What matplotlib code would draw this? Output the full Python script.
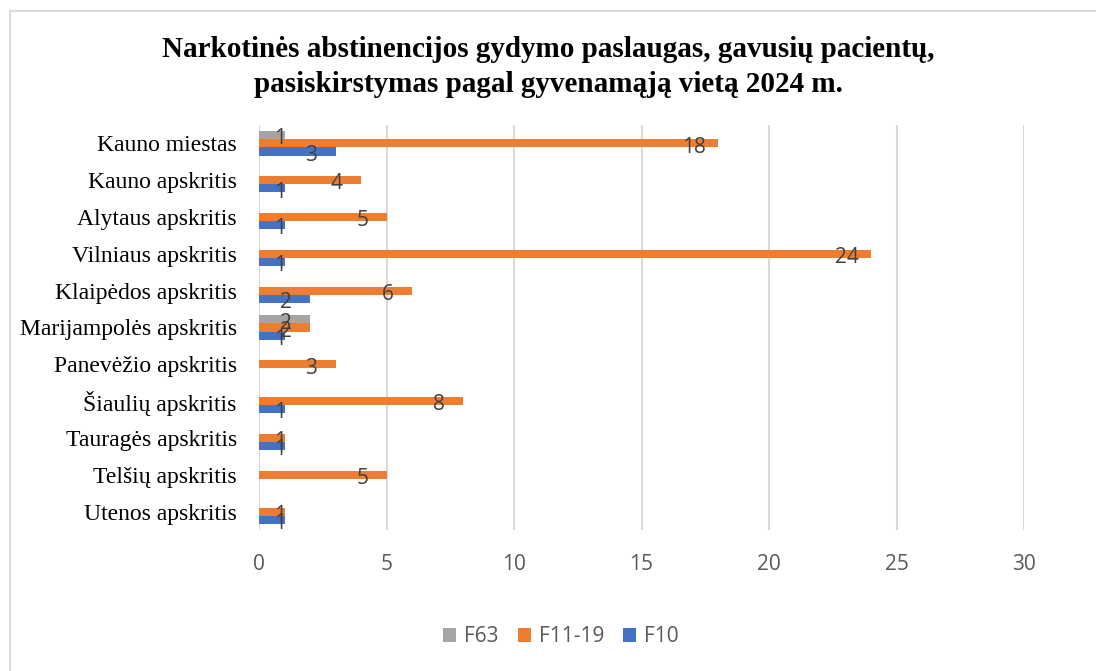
import matplotlib.pyplot as plt
import numpy as np
from matplotlib.lines import Line2D

categories = ["Kauno miestas", "Kauno apskritis", "Alytaus apskritis", "Vilniaus apskritis",
              "Klaipėdos apskritis", "Marijampolės apskritis", "Panevėžio apskritis",
              "Šiaulių apskritis", "Tauragės apskritis", "Telšių apskritis", "Utenos apskritis"]
f63 = [1, 0, 0, 0, 0, 2, 0, 0, 0, 0, 0]
f11_19 = [18, 4, 5, 24, 6, 2, 3, 8, 1, 5, 1]
f10 = [3, 1, 1, 1, 2, 1, 0, 1, 1, 0, 1]
xticks = [0, 5, 10, 15, 20, 25, 30]

series = [("F63", f63, "#A5A5A5"), ("F11-19", f11_19, "#ED7D31"), ("F10", f10, "#4472C4")]

fig = plt.figure(figsize=(10.96, 6.71), dpi=100)
ax = fig.add_axes([259/1096, 1 - 530/671, 765/1096, 405/671])

y = np.arange(len(categories))
h = 0.22
offsets = [-h, 0, h]
for (name, vals, col), off in zip(series, offsets):
    v = np.array(vals, dtype=float)
    ax.barh(y + off, v, height=h, color=col, label=name, zorder=3)
    for yi, val in zip(y + off, vals):
        if val > 0:
            xl = max(val - 0.95, 0.82)
            ax.text(xl, yi + 0.1, str(val), ha="center", va="center",
                    fontsize=15, color="#404040", family="Open Sans", zorder=4)

ax.set_ylim(10.5, -0.5)
ax.set_xlim(0, 30)
ax.set_xticks(xticks)
ax.set_yticks(y)
ax.set_yticklabels(categories, family="Liberation Serif", fontsize=17, color="black")
ax.tick_params(axis="x", length=0, pad=17, labelsize=15, labelcolor="#595959")
ax.tick_params(axis="y", length=0, pad=16)
for lab in ax.get_xticklabels():
    lab.set_family("Open Sans")
ax.grid(axis="x", color="#D9D9D9", linewidth=1.5, zorder=0)
for s in ax.spines.values():
    s.set_visible(False)

fig.text(0.5, 1 - 67/671, "Narkotinės abstinencijos gydymo paslaugas, gavusių pacientų,\n"
         "pasiskirstymas pagal gyvenamąją vietą 2024 m.",
         ha="center", va="center", family="Liberation Serif", fontweight="bold",
         fontsize=21, linespacing=1.35)

handles, labels = ax.get_legend_handles_labels()
fig.legend(handles, labels, loc="center", bbox_to_anchor=(561/1096, 1 - 637/671), ncol=3,
           frameon=False, prop={"family": "Open Sans", "size": 15}, labelcolor="#595959",
           handlelength=0.62, handleheight=0.62, columnspacing=0.9, handletextpad=0.4)

fig.add_artist(Line2D([10/1096, 10/1096], [0, 1 - 11/671], color="#D9D9D9", lw=1.5))
fig.add_artist(Line2D([10/1096, 1], [1 - 11/671, 1 - 11/671], color="#D9D9D9", lw=1.5))

fig.savefig("out.png", dpi=100)
